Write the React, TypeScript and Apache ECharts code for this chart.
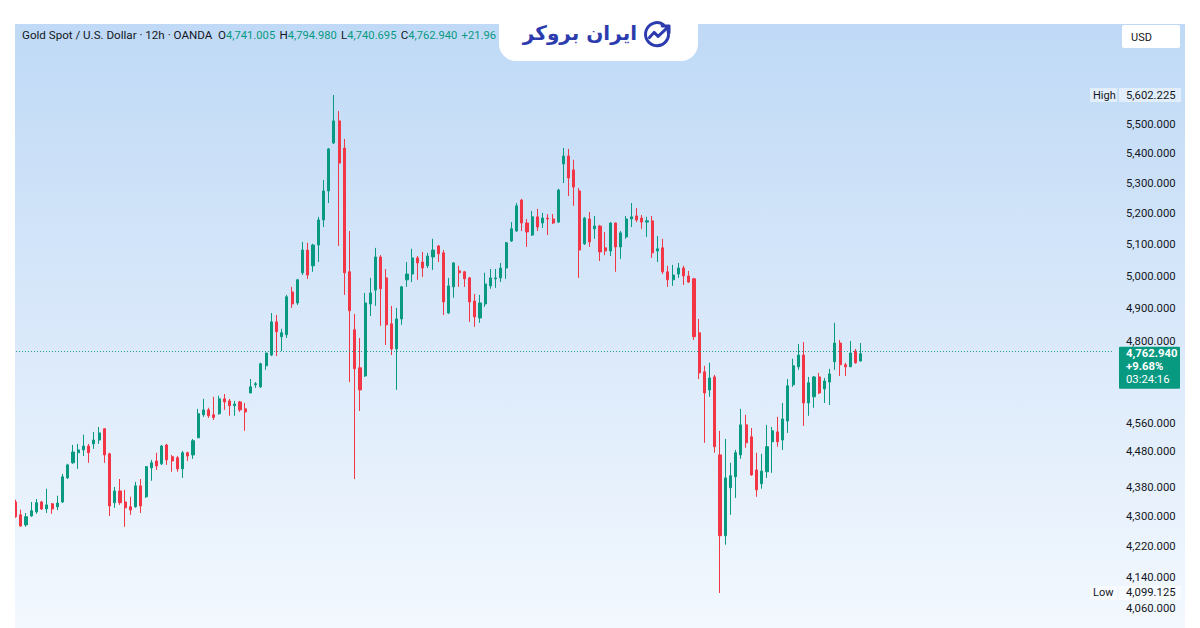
import React, { useEffect, useRef } from "react";
import * as echarts from "echarts";

// ---- Data (12h candles, Gold Spot / USD, OANDA) ----
const OPENS = [
  4340, 4305, 4278, 4302, 4313, 4340, 4321, 4335, 4327, 4340,
  4406, 4448, 4476, 4484, 4495, 4501, 4512, 4544, 4473, 4338,
  4370, 4340, 4327, 4327, 4384, 4354, 4434, 4453, 4445, 4498,
  4465, 4462, 4431, 4476, 4470, 4518, 4584, 4598, 4584, 4587,
  4630, 4624, 4610, 4621, 4601, 4647, 4671, 4665, 4727, 4759,
  4859, 4814, 4820, 4951, 4917, 5011, 5083, 5033, 5099, 5180,
  5275, 5436, 5512, 5419, 5014, 4835, 4721, 4697, 4914, 4957,
  5061, 4995, 4853, 4777, 4868, 4989, 5007, 5058, 5045, 5033,
  5061, 5096, 5074, 4886, 4967, 5017, 5014, 4995, 4923, 4871,
  4914, 4970, 4992, 4995, 5026, 5112, 5144, 5245, 5170, 5131,
  5190, 5170, 5186, 5183, 5173, 5365, 5392, 5345, 5275, 5103,
  5183, 5151, 5160, 5090, 5080, 5170, 5093, 5125, 5183, 5193,
  5186, 5173, 5177, 5080, 5090, 5014, 4989, 5007, 5026, 5001,
  4992, 4826, 4709, 4656, 4694, 4470, 4249, 4379, 4409, 4470,
  4555, 4521, 4428, 4390, 4423, 4507, 4535, 4512, 4566, 4671,
  4724, 4759, 4618, 4636, 4694, 4659, 4679, 4739, 4795, 4730,
  4724, 4771, 4741.005,
];
const CLOSES = [
  4300, 4275, 4300, 4316, 4338, 4321, 4332, 4321, 4337, 4409,
  4442, 4478, 4484, 4495, 4476, 4512, 4532, 4470, 4329, 4370,
  4338, 4324, 4318, 4384, 4329, 4437, 4448, 4439, 4495, 4456,
  4453, 4431, 4476, 4467, 4510, 4587, 4598, 4581, 4576, 4630,
  4621, 4610, 4615, 4598, 4592, 4665, 4674, 4733, 4765, 4859,
  4829, 4826, 4936, 4914, 4989, 5083, 5004, 5099, 5180, 5275,
  5416, 5512, 5368, 5011, 4893, 4718, 4656, 4917, 4948, 5061,
  4961, 4850, 4777, 4868, 4967, 5007, 5058, 5042, 5026, 5064,
  5083, 5071, 4920, 4970, 5042, 5011, 4992, 4920, 4874, 4917,
  4976, 4995, 4995, 5026, 5106, 5151, 5226, 5170, 5141, 5190,
  5157, 5186, 5183, 5170, 5278, 5392, 5318, 5288, 5083, 5186,
  5109, 5160, 5077, 5080, 5170, 5093, 5138, 5183, 5190, 5180,
  5173, 5177, 5074, 5087, 5014, 4989, 5004, 5026, 5001, 4982,
  4814, 4706, 4647, 4691, 4493, 4249, 4406, 4412, 4476, 4555,
  4504, 4414, 4373, 4425, 4493, 4538, 4507, 4572, 4668, 4727,
  4759, 4618, 4677, 4694, 4647, 4682, 4703, 4795, 4730, 4724,
  4765, 4736, 4762.94,
];
const LOWS = [
  4297, 4273, 4273, 4300, 4308, 4318, 4310, 4308, 4318, 4337,
  4403, 4445, 4431, 4467, 4448, 4487, 4501, 4448, 4302, 4324,
  4332, 4273, 4305, 4324, 4310, 4351, 4398, 4428, 4442, 4442,
  4423, 4423, 4406, 4453, 4459, 4518, 4578, 4575, 4569, 4584,
  4598, 4581, 4581, 4592, 4538, 4647, 4662, 4662, 4715, 4756,
  4756, 4771, 4810, 4902, 4911, 5004, 4992, 5014, 5045, 5157,
  5235, 5433, 5096, 4942, 4679, 4403, 4595, 4694, 4877, 4908,
  4847, 4789, 4759, 4656, 4850, 4967, 4982, 4989, 4998, 5026,
  5020, 5045, 4880, 4883, 4933, 4967, 4967, 4859, 4844, 4856,
  4905, 4961, 4964, 4982, 4992, 5109, 5141, 5144, 5093, 5128,
  5144, 5154, 5131, 5167, 5170, 5301, 5258, 5226, 4995, 5099,
  5093, 5119, 5048, 5067, 5064, 5014, 5055, 5119, 5157, 5173,
  5151, 5125, 5058, 5045, 5007, 4967, 4970, 4995, 4973, 4979,
  4804, 4688, 4504, 4636, 4476, 4099.125, 4225, 4305, 4351, 4459,
  4490, 4412, 4354, 4376, 4406, 4420, 4493, 4484, 4532, 4665,
  4715, 4552, 4581, 4604, 4644, 4618, 4612, 4715, 4697, 4697,
  4724, 4733, 4740.695,
];
const HIGHS = [
  4346, 4319, 4310, 4340, 4348, 4343, 4376, 4337, 4357, 4417,
  4445, 4498, 4501, 4527, 4501, 4535, 4549, 4546, 4476, 4381,
  4403, 4373, 4354, 4395, 4403, 4439, 4456, 4476, 4498, 4501,
  4470, 4467, 4481, 4479, 4515, 4601, 4630, 4604, 4636, 4639,
  4644, 4630, 4624, 4624, 4618, 4688, 4679, 4736, 4766, 4886,
  4880, 4838, 4942, 4967, 4992, 5109, 5106, 5103, 5190, 5311,
  5419, 5602.225, 5546, 5450, 5144, 4883, 4810, 4948, 4995, 5090,
  5067, 5023, 4908, 4902, 4970, 5045, 5087, 5064, 5077, 5074,
  5119, 5099, 5083, 4995, 5045, 5033, 5017, 4998, 4945, 4942,
  5011, 5023, 5023, 5042, 5109, 5173, 5235, 5249, 5183, 5209,
  5216, 5203, 5199, 5199, 5282, 5419, 5416, 5379, 5285, 5190,
  5206, 5193, 5164, 5141, 5173, 5171, 5144, 5193, 5235, 5219,
  5196, 5190, 5193, 5128, 5119, 5033, 5036, 5042, 5033, 5017,
  4995, 4868, 4727, 4736, 4700, 4538, 4515, 4448, 4484, 4601,
  4584, 4546, 4476, 4473, 4555, 4549, 4578, 4618, 4688, 4748,
  4792, 4798, 4694, 4697, 4706, 4691, 4718, 4856, 4804, 4736,
  4801, 4777, 4794.98,
];
// empty future slots on the time axis (right of the last candle)
const FUTURE_SLOTS = 48;
const CATEGORIES = [
  ...OPENS.map((_, i) => `${i + 1}`),
  ...Array.from({ length: FUTURE_SLOTS }, (_, i) => `+${i + 1}`),
];

const PRICE_TICKS = [5500, 5400, 5300, 5200, 5100, 5000, 4900, 4800, 4560, 4480, 4380, 4300, 4220, 4140, 4060];
const HIGH_PRICE = 5602.225;
const LOW_PRICE = 4099.125;
const LAST_PRICE = 4762.94;
const LAST_CHANGE = "+9.68%";
const COUNTDOWN = "03:24:16";
const Y_RANGE = [4010.0, 5857.4];

const HEADER_TITLE = "Gold Spot / U.S. Dollar · 12h · OANDA";
const OHLC_LABELS = ["O", "H", "L", "C"];
const OHLC_VALUES = ["4,741.005", "4,794.980", "4,740.695", "4,762.940"];
const HEADER_CHANGE = "+21.96";
const BRAND = "ایران بروکر";

const UP = "#089981";
const DOWN = "#f23645";
const INK = "#131722";
const BRAND_BLUE = "#2c3cae";

const fmt = (v: number) =>
  v.toLocaleString("en-US", { minimumFractionDigits: 3, maximumFractionDigits: 3 });

const ICON_PATH =
  "M 18.7 5.8 A 10 10 0 1 0 22.7 11.4 M 6.5 17 L 10.5 12.5 L 14 16 L 23 7.5 M 17.5 7 L 23.5 7 L 23.5 13";

let registered = false;

export default function App() {
  const ref = useRef<HTMLDivElement>(null);

  useEffect(() => {
    if (!registered) {
      echarts.graphic.registerShape("logo", echarts.graphic.extendPath(ICON_PATH, {}) as any);
      registered = true;
    }
    const el = ref.current!;
    const chart = echarts.init(el, null, { renderer: "svg" });
    const ln = Math.log;
    const data = OPENS.map((o, i) => [ln(o), ln(CLOSES[i]), ln(LOWS[i]), ln(HIGHS[i])]);
    const font = "Roboto, 'Noto Sans', sans-serif";

    chart.setOption({
      animation: false,
      grid: { left: 13, right: 86, top: 24, bottom: 0, outerBoundsMode: "none" } as any,
      xAxis: { type: "category", data: CATEGORIES, show: false, boundaryGap: true },
      yAxis: {
        type: "value",
        position: "right",
        min: ln(Y_RANGE[0]),
        max: ln(Y_RANGE[1]),
        axisLine: { show: false },
        axisTick: { show: false },
        splitLine: { show: false },
        axisLabel: {
          customValues: [...PRICE_TICKS, HIGH_PRICE, LOW_PRICE].map(ln),
          formatter: (v: number) => fmt(Math.exp(v)),
          color: INK,
          fontSize: 11.3,
          fontFamily: font,
          margin: 12,
        },
      } as any,
      series: [
        {
          type: "candlestick",
          data,
          barWidth: 2.6,
          silent: true,
          itemStyle: {
            color: UP,
            color0: DOWN,
            borderColor: UP,
            borderColor0: DOWN,
            borderWidth: 1,
          },
          markLine: {
            silent: true,
            symbol: ["none", "none"],
            label: { show: false },
            lineStyle: { type: [1, 2], color: UP, width: 1, opacity: 0.9 },
            emphasis: { disabled: true },
            data: [{ yAxis: ln(LAST_PRICE) }],
          },
        },
      ],
    });

    const py = (p: number) => chart.convertToPixel({ yAxisIndex: 0 }, ln(p)) as number;
    const yHigh = py(HIGH_PRICE);
    const yLow = py(LOW_PRICE);
    const yLast = py(LAST_PRICE);

    const headerRich: string[] = [`{d|${HEADER_TITLE}  }`];
    OHLC_LABELS.forEach((l, i) => headerRich.push(`{d|${l}}{g|${OHLC_VALUES[i]}}{s| }`));
    headerRich.push(`{g|${HEADER_CHANGE}}`);
    const hfs = 11.6;

    const tagBox = (y: number, label: string, id: string) => [
      {
        type: "rect", id: id + "a", silent: true, z: -5,
        shape: { x: 1090, y: y - 7, width: 27, height: 14 },
        style: { fill: "rgba(255,255,255,0.5)" },
      },
      {
        type: "rect", id: id + "b", silent: true, z: -5,
        shape: { x: 1119, y: y - 7, width: 62, height: 14 },
        style: { fill: "rgba(255,255,255,0.5)" },
      },
      {
        type: "text", id: id + "t", silent: true, z: 5,
        x: 1093, y,
        style: { text: label, fill: INK, fontSize: 11, fontFamily: font, verticalAlign: "middle" },
      },
    ];

    chart.setOption({
      graphic: [
        {
          type: "rect", id: "bg", silent: true, z: -10,
          shape: { x: 15, y: 24, width: 1170, height: 604 },
          style: {
            fill: new echarts.graphic.LinearGradient(0, 0, 0, 1, [
              { offset: 0, color: "#bfd9f6" },
              { offset: 1, color: "#f3f8fe" },
            ]),
          },
        },
        {
          type: "rect", id: "leftStrip", silent: true, z: 50,
          shape: { x: 0, y: 0, width: 15, height: 628 },
          style: { fill: "#ffffff" },
        },
        {
          type: "text", id: "header", silent: true, z: 55,
          x: 22, y: 35,
          style: {
            text: headerRich.join(""),
            fontSize: hfs,
            fontFamily: font,
            verticalAlign: "middle",
            rich: {
              d: { fill: INK, fontSize: hfs, fontFamily: font },
              g: { fill: UP, fontSize: 11.2, fontFamily: font },
              s: { fill: INK, fontSize: 17, fontFamily: font },
            },
          },
        },
        {
          type: "rect", id: "tab", silent: true, z: 60,
          shape: { x: 499, y: 0, width: 199, height: 61, r: [0, 0, 17, 17] },
          style: { fill: "#ffffff" },
        },
        {
          type: "text", id: "brand", silent: true, z: 61,
          x: 637, y: 33,
          style: {
            text: BRAND,
            fill: BRAND_BLUE,
            fontSize: 20,
            fontWeight: "bold",
            fontFamily: "'DejaVu Sans', sans-serif",
            align: "right",
            verticalAlign: "middle",
          },
        },
        {
          type: "logo", id: "icon", silent: true, z: 61,
          x: 642, y: 18, scaleX: 1.15, scaleY: 1.15,
          style: { stroke: BRAND_BLUE, fill: "none", lineWidth: 2.6, lineCap: "round", lineJoin: "round" },
        },
        {
          type: "rect", id: "usd", silent: true, z: 60,
          shape: { x: 1122, y: 25, width: 58, height: 23, r: 2 },
          style: { fill: "#ffffff" },
        },
        {
          type: "text", id: "usdt", silent: true, z: 61,
          x: 1131, y: 37,
          style: { text: "USD", fill: INK, fontSize: 11, fontFamily: font, verticalAlign: "middle" },
        },
        ...tagBox(yHigh, "High", "hi"),
        ...tagBox(yLow, "Low", "lo"),
        {
          type: "rect", id: "pbox", silent: true, z: 60,
          shape: { x: 1119, y: yLast - 7, width: 61, height: 42, r: 1 },
          style: { fill: UP },
        },
        {
          type: "text", id: "p1", silent: true, z: 61,
          x: 1126, y: yLast,
          style: { text: fmt(LAST_PRICE), fill: "#ffffff", fontSize: 11.3, fontWeight: "bold", fontFamily: font, verticalAlign: "middle" },
        },
        {
          type: "text", id: "p2", silent: true, z: 61,
          x: 1126, y: yLast + 13,
          style: { text: LAST_CHANGE, fill: "#ffffff", fontSize: 11.3, fontWeight: "bold", fontFamily: font, verticalAlign: "middle" },
        },
        {
          type: "text", id: "p3", silent: true, z: 61,
          x: 1126, y: yLast + 26,
          style: { text: COUNTDOWN, fill: "#ffffff", fontSize: 11.3, fontFamily: font, verticalAlign: "middle" },
        },
      ],
    } as any);

    return () => chart.dispose();
  }, []);

  return (
    <div
      ref={ref}
      style={{ position: "fixed", left: 0, top: 0, width: 1200, height: 628, background: "#ffffff" }}
    />
  );
}
